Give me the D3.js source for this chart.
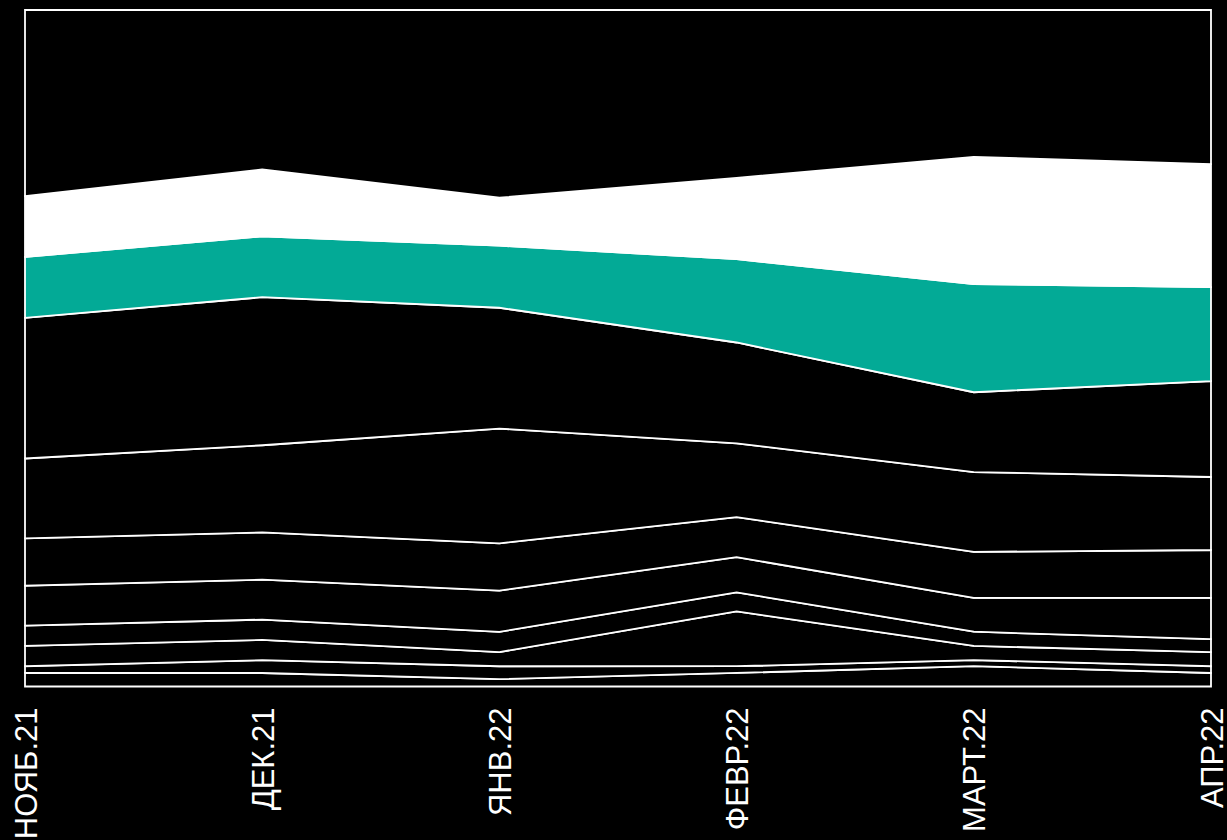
<!DOCTYPE html>
<html>
<head>
<meta charset="utf-8">
<script src="https://cdn.jsdelivr.net/npm/d3@7"></script>
<style>
  html, body { margin: 0; padding: 0; background: #000; }
  svg { display: block; }
</style>
</head>
<body>
<svg id="chart" width="1227" height="840"></svg>
<script>
// Categories (months)
const months = ["НОЯБ.21", "ДЕК.21", "ЯНВ.22", "ФЕВР.22", "МАРТ.22", "АПР.22"];

// Series shares (%), stacked from bottom to top
const s1  = [2.0, 2.0, 1.1, 2.0, 3.0, 2.0];
const s2  = [1.0, 1.9, 1.9, 1.0, 0.9, 1.0];
const s3  = [3.0, 3.0, 2.1, 8.1, 2.1, 2.1];
const s4  = [3.0, 3.0, 3.0, 2.8, 2.1, 1.9];
const s5  = [5.9, 5.9, 6.1, 5.2, 5.0, 6.1];
const s6  = [7.0, 7.0, 7.0, 5.9, 6.8, 7.1];
const s7  = [11.8, 12.9, 17.0, 10.9, 11.8, 10.8];
const s8  = [20.8, 21.9, 17.9, 14.9, 11.8, 14.2];
const s9  = [9.0, 9.0, 9.2, 12.3, 16.0, 13.9];   // teal
const s10 = [9.0, 9.9, 7.1, 12.0, 18.8, 18.2];   // white
const s11 = [27.5, 23.6, 27.8, 24.8, 21.7, 22.8];

const seriesList = [s1, s2, s3, s4, s5, s6, s7, s8, s9, s10, s11];
const seriesKeys = ["s1","s2","s3","s4","s5","s6","s7","s8","s9","s10","s11"];
const seriesFill = ["#000","#000","#000","#000","#000","#000","#000","#000","#03aa96","#ffffff","#000"];

const rows = months.map((m, i) => {
  const r = { month: m };
  seriesKeys.forEach((k, j) => r[k] = seriesList[j][i]);
  return r;
});

const svg = d3.select("#chart");
const mLeft = 25, mRight = 1211, mTop = 10, mBottom = 686.5;

const x = d3.scalePoint().domain(months).range([mLeft, mRight]);
const y = d3.scaleLinear().domain([0, 1]).range([mBottom, mTop]);

const stack = d3.stack().keys(seriesKeys).offset(d3.stackOffsetExpand);
const layers = stack(rows);

const area = d3.area()
  .x(d => x(d.data.month))
  .y0(d => y(d[0]))
  .y1(d => y(d[1]));

svg.append("rect").attr("width", 1227).attr("height", 840).attr("fill", "#000");

svg.append("g").selectAll("path")
  .data(layers)
  .join("path")
  .attr("d", area)
  .attr("fill", (d, i) => seriesFill[i])
  .attr("stroke", "#fff")
  .attr("stroke-width", 1.8)
  .attr("stroke-linejoin", "miter");

const xAxis = d3.axisBottom(x).tickSize(0).tickPadding(0);
const gx = svg.append("g").attr("transform", `translate(0,${mBottom})`).call(xAxis);
gx.select(".domain").remove();
gx.selectAll("text")
  .attr("fill", "#fff")
  .attr("font-family", "'Liberation Sans', Arial, sans-serif")
  .attr("font-size", 31)
  .attr("text-anchor", "end")
  .attr("transform", "translate(0,21) rotate(-90)")
  .attr("x", 0)
  .attr("y", 0)
  .attr("dy", "0.36em");
</script>
</body>
</html>
